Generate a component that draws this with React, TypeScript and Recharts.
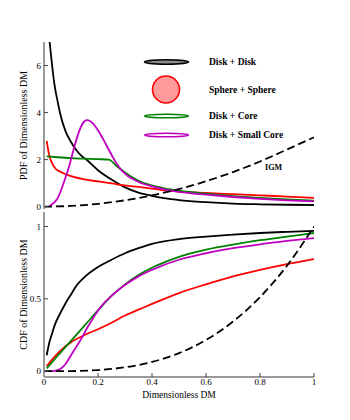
import {
  LineChart,
  Line,
  XAxis,
  YAxis,
  Legend,
  ReferenceDot,
} from "recharts";

// x ticks shared by both panels
const xTicks = [0, 0.2, 0.4, 0.6, 0.8, 1];
const pdfTicks = [0, 2, 4, 6];
const cdfTicks = [0, 0.5, 1];

// PDF panel, [dimensionless DM, density]
const pdfDiskDisk = [
  [0.02, 7.1], [0.03, 6.0], [0.04, 5.1], [0.05, 4.5], [0.06, 3.95],
  [0.08, 3.2], [0.1, 2.75], [0.12, 2.4], [0.14, 2.15], [0.16, 1.97],
  [0.2, 1.55], [0.25, 1.15], [0.3, 0.82], [0.35, 0.6], [0.4, 0.46],
  [0.45, 0.35], [0.5, 0.28], [0.6, 0.19], [0.7, 0.13], [0.8, 0.1],
  [0.9, 0.08], [1.0, 0.07],
];
const pdfSphere = [
  [0.01, 2.8], [0.02, 2.15], [0.03, 1.85], [0.04, 1.65], [0.06, 1.48],
  [0.08, 1.38], [0.1, 1.3], [0.15, 1.16], [0.2, 1.07], [0.25, 0.99],
  [0.3, 0.9], [0.35, 0.84], [0.4, 0.77], [0.45, 0.69], [0.5, 0.64],
  [0.6, 0.58], [0.7, 0.53], [0.8, 0.48], [0.9, 0.43], [1.0, 0.37],
];
const pdfCore = [
  [0.01, 2.14], [0.05, 2.1], [0.1, 2.06], [0.15, 2.04], [0.2, 2.02],
  [0.24, 2.0], [0.27, 1.72], [0.3, 1.45], [0.35, 1.1], [0.4, 0.9],
  [0.45, 0.77], [0.5, 0.68], [0.6, 0.55], [0.7, 0.45], [0.8, 0.37],
  [0.9, 0.31], [1.0, 0.26],
];
const pdfSmallCore = [
  [0.02, 0.02], [0.03, 0.1], [0.04, 0.2], [0.05, 0.35], [0.06, 0.6],
  [0.07, 0.92], [0.08, 1.25], [0.09, 1.6], [0.1, 2.0], [0.11, 2.45],
  [0.12, 2.85], [0.13, 3.2], [0.14, 3.47], [0.15, 3.63], [0.16, 3.68],
  [0.17, 3.64], [0.18, 3.55], [0.2, 3.25], [0.22, 2.85], [0.24, 2.42],
  [0.26, 2.0], [0.28, 1.65], [0.3, 1.4], [0.35, 1.05], [0.4, 0.86],
  [0.45, 0.72], [0.5, 0.63], [0.6, 0.51], [0.7, 0.41], [0.8, 0.33],
  [0.9, 0.27], [1.0, 0.22],
];
const pdfIgm = [
  [0, 0], [0.1, 0.03], [0.2, 0.12], [0.3, 0.27], [0.4, 0.48], [0.5, 0.75],
  [0.6, 1.08], [0.7, 1.47], [0.8, 1.92], [0.9, 2.43], [1.0, 2.95],
];

// CDF panel
const cdfDiskDisk = [
  [0.01, 0.11], [0.02, 0.2], [0.03, 0.26], [0.04, 0.32], [0.06, 0.4],
  [0.08, 0.47], [0.1, 0.53], [0.12, 0.59], [0.15, 0.65], [0.2, 0.72],
  [0.25, 0.77], [0.3, 0.815], [0.35, 0.85], [0.4, 0.88], [0.5, 0.913],
  [0.6, 0.93], [0.7, 0.944], [0.8, 0.955], [0.9, 0.963], [1.0, 0.97],
];
const cdfSphere = [
  [0.01, 0.035], [0.03, 0.08], [0.06, 0.14], [0.1, 0.2], [0.15, 0.25],
  [0.2, 0.29], [0.25, 0.335], [0.3, 0.385], [0.35, 0.425], [0.4, 0.465],
  [0.5, 0.54], [0.6, 0.6], [0.7, 0.655], [0.8, 0.7], [0.9, 0.74],
  [1.0, 0.775],
];
const cdfCore = [
  [0.01, 0.02], [0.05, 0.105], [0.1, 0.21], [0.15, 0.315], [0.2, 0.42],
  [0.25, 0.52], [0.3, 0.6], [0.35, 0.665], [0.4, 0.715], [0.45, 0.755],
  [0.5, 0.79], [0.6, 0.84], [0.7, 0.875], [0.8, 0.905], [0.9, 0.93],
  [1.0, 0.955],
];
const cdfSmallCore = [
  [0.02, 0], [0.04, 0.003], [0.06, 0.015], [0.08, 0.05], [0.1, 0.11],
  [0.12, 0.17], [0.14, 0.23], [0.16, 0.3], [0.18, 0.36], [0.2, 0.42],
  [0.25, 0.52], [0.3, 0.595], [0.35, 0.655], [0.4, 0.7], [0.5, 0.77],
  [0.6, 0.815], [0.7, 0.85], [0.8, 0.877], [0.9, 0.9], [1.0, 0.92],
];
const cdfIgm = [
  [0, 0], [0.1, 0.001], [0.2, 0.008], [0.3, 0.027], [0.4, 0.064],
  [0.5, 0.125], [0.6, 0.216], [0.7, 0.343], [0.8, 0.512], [0.9, 0.729],
  [1.0, 1.0],
];

const legendItems = ["Disk + Disk", "Sphere + Sphere", "Disk + Core", "Disk + Small Core"];
const colors = ["#000000", "#ff0000", "#008000", "#c000c0"];

const toPts = (arr: number[][]) => arr.map(([x, y]) => ({ x, y }));

const FONT = "'Liberation Serif', 'DejaVu Serif', serif";
const FRAME = { stroke: "#999", strokeWidth: 2 };
const TICKLINE = { stroke: "#444", strokeWidth: 1 };
const tickStyle = { fontSize: 9, fill: "#000", fontFamily: FONT };

function LegendBox() {
  const rows = [62, 89.5, 116, 135];
  return (
    <svg width={190} height={100} style={{ display: "block" }}>
      <g transform="translate(-138,-48)">
        <ellipse cx={166.5} cy={62} rx={22} ry={2.2} fill="#8c8c8c" stroke="#000" strokeWidth={1.6} />
        <circle cx={166} cy={89.5} r={13.5} fill="#ff9a9a" stroke="#ff0000" strokeWidth={1.6} />
        <ellipse cx={166.5} cy={116} rx={22} ry={1.8} fill="#fff" stroke="#008000" strokeWidth={1.6} />
        <ellipse cx={166.5} cy={135} rx={22} ry={1.8} fill="#fff" stroke="#c000c0" strokeWidth={1.6} />
        {legendItems.map((t, i) => (
          <text key={t} x={209} y={rows[i]} dy="0.35em" fontSize={9.5} fontWeight="bold" fontFamily={FONT} fill="#000">
            {t}
          </text>
        ))}
      </g>
    </svg>
  );
}

export default function App() {
  const pdfSeries = [pdfDiskDisk, pdfSphere, pdfCore, pdfSmallCore];
  const cdfSeries = [cdfDiskDisk, cdfSphere, cdfCore, cdfSmallCore];
  const pdfDomain = [-0.1, 7];
  const cdfDomain = [-0.04, 1.1];

  return (
    <div style={{ position: "absolute", left: 0, top: 0, width: 350, height: 420, background: "#fff", fontFamily: FONT }}>
      <div style={{ position: "absolute", left: 0, top: 0 }}>
        <LineChart width={350} height={214} margin={{ top: 42, right: 36, bottom: 5, left: 4 }}>
          <XAxis
            type="number" dataKey="x" domain={[0, 1]} ticks={xTicks} allowDataOverflow
            height={0} tick={false} tickSize={-4} axisLine={FRAME} tickLine={TICKLINE}
          />
          <XAxis
            xAxisId="top" orientation="top" type="number" domain={[0, 1]} ticks={xTicks} allowDataOverflow
            height={0} tick={false} tickSize={-4} axisLine={FRAME} tickLine={TICKLINE}
          />
          <YAxis
            type="number" domain={pdfDomain} ticks={pdfTicks} allowDataOverflow width={40}
            tickSize={-4} tickMargin={7} axisLine={FRAME} tickLine={TICKLINE} tick={tickStyle}
            label={{
              value: "PDF of Dimensionless DM", angle: -90, position: "insideLeft", offset: 19,
              style: { textAnchor: "middle", fontSize: 10, fontFamily: FONT, fill: "#000" },
            }}
          />
          <YAxis
            yAxisId="right" orientation="right" type="number" domain={pdfDomain} ticks={pdfTicks} allowDataOverflow
            width={0} tick={false} tickSize={-4} axisLine={FRAME} tickLine={TICKLINE}
          />
          {pdfSeries.map((s, i) => (
            <Line
              key={i} data={toPts(s)} dataKey="y" type="monotone" stroke={colors[i]}
              strokeWidth={1.8} dot={false} isAnimationActive={false}
            />
          ))}
          <Line
            data={toPts(pdfIgm)} dataKey="y" type="monotone" stroke="#000" strokeWidth={1.8}
            strokeDasharray="8 4" dot={false} isAnimationActive={false}
          />
          <ReferenceDot
            x={0.85} y={1.68} r={0} fill="none" stroke="none"
            label={{ value: "IGM", position: "center", fontSize: 8, fontWeight: "bold", fontFamily: FONT, fill: "#000" }}
          />
          <Legend
            layout="vertical" verticalAlign="middle" align="center"
            wrapperStyle={{ position: "absolute", left: 138, top: 48, width: 190, height: 100 }}
            content={() => <LegendBox />}
          />
        </LineChart>
      </div>
      <div style={{ position: "absolute", left: 0, top: 200 }}>
        <LineChart width={350} height={220} margin={{ top: 12, right: 36, bottom: 31, left: 4 }}>
          <XAxis
            type="number" dataKey="x" domain={[0, 1]} ticks={xTicks} allowDataOverflow
            height={12} tickSize={-4} tickMargin={6} axisLine={FRAME} tickLine={TICKLINE} tick={tickStyle}
            tickFormatter={(v: number) => String(v)}
            label={{ value: "Dimensionless DM", position: "bottom", offset: 2, style: { fontSize: 9.5, fontFamily: FONT, fill: "#000" } }}
          />
          <XAxis
            xAxisId="top" orientation="top" type="number" domain={[0, 1]} ticks={xTicks} allowDataOverflow
            height={0} tick={false} tickSize={-4} axisLine={FRAME} tickLine={TICKLINE}
          />
          <YAxis
            type="number" domain={cdfDomain} ticks={cdfTicks} allowDataOverflow width={40}
            tickSize={-4} tickMargin={7} axisLine={FRAME} tickLine={TICKLINE} tick={tickStyle}
            label={{
              value: "CDF of Dimensionless DM", angle: -90, position: "insideLeft", offset: 19,
              style: { textAnchor: "middle", fontSize: 10, fontFamily: FONT, fill: "#000" },
            }}
          />
          <YAxis
            yAxisId="right" orientation="right" type="number" domain={cdfDomain} ticks={cdfTicks} allowDataOverflow
            width={0} tick={false} tickSize={-4} axisLine={FRAME} tickLine={TICKLINE}
          />
          {cdfSeries.map((s, i) => (
            <Line
              key={i} data={toPts(s)} dataKey="y" type="monotone" stroke={colors[i]}
              strokeWidth={1.8} dot={false} isAnimationActive={false}
            />
          ))}
          <Line
            data={toPts(cdfIgm)} dataKey="y" type="monotone" stroke="#000" strokeWidth={1.8}
            strokeDasharray="8 4" dot={false} isAnimationActive={false}
          />
        </LineChart>
      </div>
    </div>
  );
}
